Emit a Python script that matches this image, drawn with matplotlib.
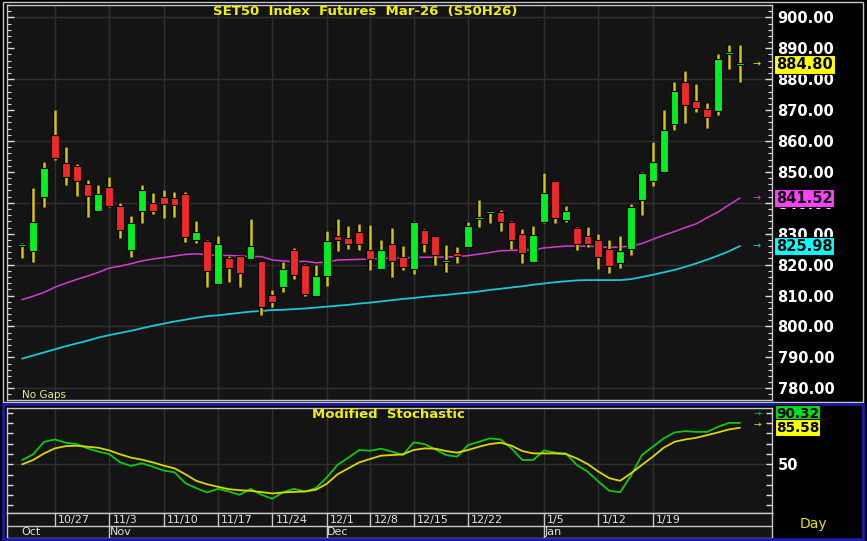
import matplotlib
matplotlib.use('Agg')
import matplotlib.pyplot as plt
import matplotlib.transforms as mtransforms
from matplotlib.patches import Rectangle
from matplotlib.ticker import MultipleLocator, FixedLocator
import numpy as np

# ---------------- data ----------------
opens = [826.0, 824.5, 841.8, 862.0, 853.0, 852.0, 846.0, 837.5, 845.0, 839.1,
         824.8, 837.5, 839.8, 841.8, 841.4, 843.0, 827.9, 827.8, 813.8, 822.1,
         822.7, 821.8, 821.1, 810.1, 812.6, 824.8, 819.8, 810.0, 816.3, 829.1,
         828.7, 830.5, 824.8, 818.6, 826.7, 822.4, 818.5, 831.1, 829.1, 820.8,
         823.7, 825.6, 834.7, 836.6, 837.1, 833.7, 830.0, 820.9, 833.8, 847.1,
         834.5, 831.8, 829.1, 828.1, 825.1, 820.5, 825.2, 840.8, 846.9, 849.9,
         865.4, 879.0, 872.8, 870.4, 869.7, 888.2, 884.6]
highs = [827.1, 844.7, 853.3, 870.1, 857.9, 852.5, 847.4, 845.8, 848.5, 840.1,
         835.8, 845.8, 843.1, 844.2, 843.4, 843.4, 834.1, 828.0, 829.4, 822.8,
         822.7, 834.7, 821.1, 811.8, 820.8, 825.3, 820.1, 819.8, 830.8, 834.7,
         832.5, 833.1, 832.7, 827.9, 831.8, 826.0, 834.1, 831.5, 829.1, 826.4,
         825.6, 833.7, 840.8, 837.4, 837.7, 834.1, 831.5, 832.4, 849.8, 847.1,
         839.1, 832.1, 832.1, 829.8, 828.1, 829.1, 839.6, 850.1, 859.8, 870.1,
         879.2, 882.8, 878.4, 872.4, 888.1, 891.0, 891.0]
lows = [822.2, 821.0, 838.8, 854.0, 845.8, 842.2, 835.5, 837.5, 838.8, 828.7,
        822.4, 833.6, 836.4, 835.2, 835.5, 827.3, 826.9, 812.9, 813.8, 814.5,
        812.6, 821.8, 803.6, 806.3, 811.3, 815.3, 810.0, 810.0, 813.2, 824.5,
        825.2, 824.8, 818.3, 818.6, 815.9, 818.3, 816.9, 824.2, 819.8, 817.5,
        820.6, 825.6, 832.3, 833.6, 830.9, 825.0, 820.6, 820.9, 833.4, 833.4,
        833.8, 824.8, 825.6, 818.5, 817.2, 818.8, 823.1, 835.9, 845.5, 849.9,
        863.4, 865.7, 869.5, 864.1, 868.4, 883.2, 879.2]
closes = [826.3, 833.7, 851.4, 854.4, 848.2, 847.2, 842.2, 843.0, 839.1, 831.2,
          833.4, 844.0, 837.5, 839.5, 839.2, 829.0, 830.4, 818.0, 826.7, 818.8,
          817.4, 826.1, 806.3, 807.8, 818.5, 816.5, 810.5, 816.4, 827.7, 827.9,
          826.6, 826.6, 821.8, 824.8, 821.3, 819.2, 833.8, 826.6, 823.1, 821.5,
          822.9, 832.4, 835.0, 837.1, 833.8, 827.9, 823.6, 829.7, 843.1, 835.2,
          837.4, 826.6, 826.6, 822.6, 819.4, 824.4, 838.8, 849.5, 853.3, 863.6,
          876.3, 871.5, 870.8, 867.8, 886.6, 888.4, 884.8]

ma_magenta = [808.7, 809.8, 811.0, 812.7, 814.0, 815.2, 816.3, 817.5, 818.9, 819.5,
              820.3, 821.2, 821.8, 822.3, 822.8, 823.3, 823.5, 823.2, 822.9, 823.0,
              822.8, 822.6, 822.6, 821.5, 821.2, 820.9, 821.1, 820.6, 820.8, 821.5,
              821.6, 821.7, 821.8, 822.0, 822.1, 822.2, 822.3, 822.4, 822.4, 822.5,
              822.6, 822.9, 823.4, 823.9, 824.5, 824.6, 824.7, 824.8, 825.4, 825.7,
              826.0, 826.0, 826.0, 825.8, 825.6, 825.7, 826.0, 826.8, 828.2, 829.5,
              830.7, 832.0, 833.2, 835.2, 837.0, 839.3, 841.52]
ma_cyan = [789.6, 790.6, 791.6, 792.6, 793.6, 794.5, 795.4, 796.4, 797.2, 797.9,
           798.6, 799.4, 800.2, 800.9, 801.6, 802.2, 802.8, 803.3, 803.6, 804.0,
           804.4, 804.8, 805.0, 805.3, 805.4, 805.6, 805.8, 806.1, 806.4, 806.7,
           807.0, 807.4, 807.7, 808.1, 808.5, 808.9, 809.2, 809.6, 809.9, 810.2,
           810.6, 810.9, 811.3, 811.8, 812.2, 812.6, 813.0, 813.5, 813.9, 814.3,
           814.6, 814.9, 815.0, 815.0, 815.0, 815.0, 815.3, 816.0, 816.7, 817.5,
           818.3, 819.3, 820.4, 821.6, 822.9, 824.3, 825.98]

stoch_fast = [54.2, 59.7, 71.9, 74.2, 71.0, 69.7, 65.5, 62.3, 60.0, 51.9,
              48.4, 51.0, 47.7, 43.9, 42.3, 31.6, 26.8, 22.6, 26.1, 23.5,
              20.3, 26.1, 20.3, 16.5, 22.9, 26.1, 23.5, 26.8, 37.1, 49.4,
              56.5, 63.9, 63.2, 65.2, 62.3, 59.0, 71.3, 69.7, 64.5, 59.0,
              57.4, 68.7, 71.9, 75.2, 74.2, 65.5, 54.2, 54.2, 63.5, 61.3,
              60.6, 49.4, 42.9, 33.2, 24.2, 22.9, 39.0, 59.0, 67.1, 75.2,
              81.0, 82.3, 81.6, 81.6, 86.5, 90.3, 90.32]
stoch_slow = [50.0, 54.2, 60.6, 65.5, 67.7, 68.1, 67.1, 66.1, 63.5, 59.7,
              56.5, 54.5, 51.9, 48.7, 46.1, 40.3, 33.9, 30.6, 28.1, 25.8,
              24.8, 24.2, 22.9, 21.6, 22.6, 23.2, 23.5, 25.2, 31.0, 40.3,
              46.1, 51.9, 55.2, 58.4, 59.0, 59.7, 63.9, 65.5, 65.2, 62.9,
              61.3, 63.9, 67.1, 69.7, 71.0, 68.1, 62.9, 60.6, 60.6, 60.6,
              60.0, 55.8, 50.3, 42.9, 36.5, 33.9, 41.3, 49.4, 57.4, 66.1,
              71.9, 74.2, 75.8, 78.4, 81.0, 83.9, 85.58]

week_pos = [3, 8, 13, 18, 23, 28, 32, 36, 41, 48, 53, 58]
week_labels = ['10/27', '11/3', '11/10', '11/17', '11/24', '12/1', '12/8',
               '12/15', '12/22', '1/5', '1/12', '1/19']
month_pos = [8, 28, 48]
month_labels = ['Nov', 'Dec', 'Jan']
first_month = 'Oct'

price_ticks = [780, 790, 800, 810, 820, 830, 840, 850, 860, 870, 880, 890, 900]
last_close = closes[-1]

# ---------------- layout ----------------
W, H = 867, 541
BG = '#141414'
GRID = '#303030'
fig = plt.figure(figsize=(W / 100, H / 100), dpi=100, facecolor='black')


def box(x0, y0, x1, y1):
    return [x0 / W, 1 - y1 / H, (x1 - x0) / W, (y1 - y0) / H]


X0, X1 = 7, 772
n = len(closes)
xs = np.arange(n)
xlim = ((X0 - 22.3) / 10.87, (X1 - 22.3) / 10.87)

ax = fig.add_axes(box(X0, 5, X1, 400), facecolor=BG)
axs = fig.add_axes(box(X0, 408, X1, 513), facecolor=BG)
axd = fig.add_axes(box(X0, 513, X1, 538), facecolor=BG)

for a in (ax, axs, axd):
    a.set_xlim(*xlim)
    for s in a.spines.values():
        s.set_color('#c8c8c8')
        s.set_linewidth(1.0)

# ---- price panel ----
ax.set_ylim(776.2, 904.0)
for p in range(780, 901, 20):
    ax.axhline(p, color=GRID, lw=1.0, zorder=0)
for wp in week_pos:
    ax.axvline(wp, color=GRID, lw=1.0, zorder=0)

ax.plot(xs, ma_cyan, color='#19c8d2', lw=1.3, zorder=2)
ax.plot(xs, ma_magenta, color='#d23cd2', lw=1.1, zorder=2)

o = np.array(opens); c = np.array(closes); h = np.array(highs); l = np.array(lows)
up = c >= o
ax.vlines(xs, l, h, color='black', lw=3.2, zorder=3)
ax.vlines(xs, l, h, color='#d8c800', lw=1.8, zorder=4)
body_bottom = np.minimum(o, c)
body_h = np.maximum(np.abs(c - o), 0.6)
colors = np.where(up, '#00f020', '#f02828')
ax.bar(xs, body_h, bottom=body_bottom, width=0.72, color=colors,
       edgecolor='black', linewidth=0.8, zorder=5)

ax.yaxis.set_major_locator(FixedLocator(price_ticks))
ax.yaxis.set_minor_locator(MultipleLocator(2))
ax.tick_params(axis='y', which='both', direction='in', left=True, right=True,
               labelleft=False, labelright=True, colors='#dcdcdc')
ax.tick_params(axis='y', which='major', length=5, width=1, pad=4,
               labelsize=10.5, labelcolor='white')
ax.tick_params(axis='y', which='minor', length=3, width=0.8)
for t in ax.get_yticklabels():
    t.set_fontweight('bold')
ax.yaxis.set_major_formatter(matplotlib.ticker.FormatStrFormatter('%.2f'))
ax.set_xticks([])

trans_p = mtransforms.blended_transform_factory(fig.transFigure, ax.transData)
tags = [(last_close, '#ffff00'), (ma_magenta[-1], '#ff40ff'), (ma_cyan[-1], '#00ffff')]
arrow_cols = ['#e8e000', '#d23cd2', '#19c8d2']
for (val, col), acol in zip(tags, arrow_cols):
    ax.text(776 / W, val, f'{val:.2f}', transform=trans_p, ha='left', va='center',
            fontsize=10.5, fontweight='bold', color='black', zorder=10, clip_on=False,
            bbox=dict(boxstyle='square,pad=0.12', fc=col, ec='black', lw=0.8))
    ax.text(757 / W, val, '→', transform=trans_p, ha='center', va='center',
            fontsize=7, color=acol, clip_on=False)

fig.text(365 / W, 1 - 12 / H, 'SET50  Index  Futures  Mar-26  (S50H26)', ha='center',
         va='center', color='#f0f000', fontsize=9.5, fontweight='bold')
fig.text(22 / W, 1 - 395 / H, 'No Gaps', ha='left', va='center',
         color='#e8e890', fontsize=7.5)

# ---- stochastic panel ----
axs.set_ylim(2.6, 104.8)
axs.axhline(50, color=GRID, lw=1.0, zorder=0)
for wp in week_pos:
    axs.axvline(wp, color=GRID, lw=1.0, zorder=0)
axs.plot(xs, stoch_fast, color='#10c810', lw=1.3, zorder=3)
axs.plot(xs, stoch_slow, color='#d8d800', lw=1.3, zorder=4)
axs.yaxis.set_major_locator(MultipleLocator(10))
axs.tick_params(axis='y', which='major', direction='in', left=True, right=True,
                labelleft=False, labelright=True, length=4, width=1, colors='#dcdcdc',
                pad=4, labelsize=10.5, labelcolor='white')
axs.yaxis.set_major_formatter(matplotlib.ticker.FuncFormatter(
    lambda v, p: '50' if abs(v - 50) < 1e-6 else ''))
for t in axs.get_yticklabels():
    t.set_fontweight('bold')
axs.set_xticks([])
fig.text(388 / W, 1 - 415 / H, 'Modified  Stochastic', ha='center', va='center',
         color='#f0f000', fontsize=9.5, fontweight='bold')
fig.text(776 / W, 1 - 413.5 / H, f'{stoch_fast[-1]:.2f}', ha='left', va='center',
         fontsize=9.8, fontweight='bold', color='black',
         bbox=dict(boxstyle='square,pad=0.08', fc='#00e020', ec='black', lw=0.8))
fig.text(776 / W, 1 - 427.5 / H, f'{stoch_slow[-1]:.2f}', ha='left', va='center',
         fontsize=9.8, fontweight='bold', color='black',
         bbox=dict(boxstyle='square,pad=0.08', fc='#ffff00', ec='black', lw=0.8))
fig.text(757 / W, 1 - 413 / H, '→', ha='center', va='center', fontsize=6.5, color='#10c810')
fig.text(757 / W, 1 - 424 / H, '→', ha='center', va='center', fontsize=6.5, color='#e8e000')

# ---- date axis ----
axd.set_ylim(0, 2)
axd.set_xticks([]); axd.set_yticks([])
axd.axhline(1, color='#c8c8c8', lw=1.0)
for wp, lab in zip(week_pos, week_labels):
    axd.plot([wp, wp], [1, 2], color='#c8c8c8', lw=1.0)
    axd.text(wp + 0.3, 1.45, lab, ha='left', va='center', color='#e0e0e0', fontsize=8)
for mp, lab in zip(month_pos, month_labels):
    axd.plot([mp, mp], [0, 1], color='#c8c8c8', lw=1.0)
    axd.text(mp + 0.05, 0.45, lab, ha='left', va='center', color='#e0e0e0', fontsize=8)
axd.text(-0.1, 0.45, first_month, ha='left', va='center', color='#e0e0e0', fontsize=8)
fig.text(800 / W, 1 - 524 / H, 'Day', ha='left', va='center', color='#e8e000', fontsize=10)

# ---- frames ----
fig.add_artist(Rectangle((3 / W, 1 - 402 / H), 860 / W, 400 / H, transform=fig.transFigure,
                         fill=False, ec='#c8c8c8', lw=1.0))
fig.add_artist(Rectangle((3 / W, 1 - 539 / H), 860 / W, 135 / H, transform=fig.transFigure,
                         fill=False, ec='#1c1ca8', lw=2.0))

fig.savefig('out.png', dpi=100, facecolor='black')
